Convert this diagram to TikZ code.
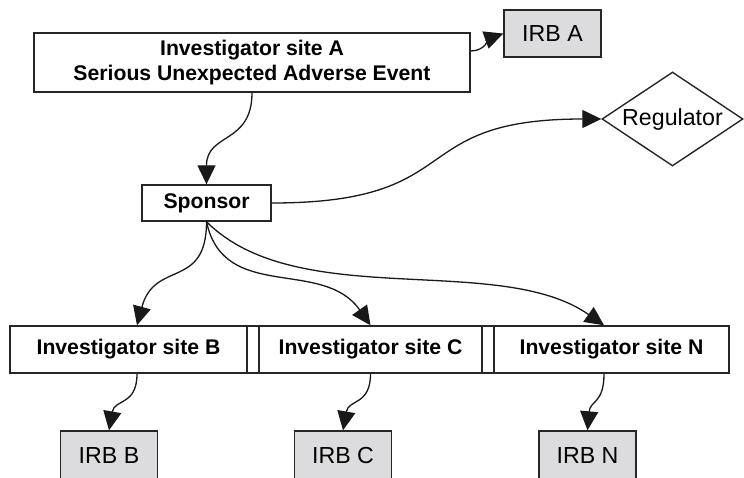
\documentclass[tikz,border=0pt]{standalone}
\usepackage{fontspec}
\setmainfont{Liberation Sans}
\usetikzlibrary{arrows.meta, shapes.geometric}
\definecolor{irbgray}{RGB}{220,220,222}

\begin{document}
\begin{tikzpicture}[x=0.5pt, y=-0.5pt,
      box/.style={rectangle, draw=black!85, line width=0.7pt, inner sep=0pt, font=\fontsize{10.6}{12.5}\selectfont\bfseries},
      site/.style={box, minimum height=23.5pt},
      gap/.style={rectangle, draw=black!85, line width=0.7pt, inner sep=0pt, minimum width=6pt, minimum height=23.5pt},
      irb/.style={rectangle, draw=black!85, line width=0.7pt, fill=irbgray, inner sep=0pt, minimum width=48.5pt, minimum height=23.5pt, font=\fontsize{11.6}{13}\selectfont},
      reg/.style={diamond, draw=black!85, line width=0.7pt, aspect=1.5, inner sep=0pt, minimum width=70.5pt, minimum height=47pt, font=\fontsize{11.6}{13}\selectfont},
      arr/.style={-{Triangle[length=9.5pt, width=9pt]}, line width=0.65pt, black!90},
    ]
      \useasboundingbox (0,0) rectangle (744,477);
      % reporting site + sponsor
      \node[box, minimum width=218pt, minimum height=29.5pt, align=center] (siteA) at (252,62.5) {Investigator site A\\Serious Unexpected Adverse Event};
      \node[irb] (irbA) at (552.5,33.5) {IRB A};
      \node[box, minimum width=64.5pt, minimum height=18pt] (sponsor) at (206.5,203) {Sponsor};
      \node[reg] (reg) at (672.5,119) {Regulator};
      % other sites
      \node[site, minimum width=118.5pt] (siteB) at (128.5,349.5) {Investigator site B};
      \node[gap] (gapBC) at (253,349.5) {};
      \node[site, minimum width=111.5pt] (siteC) at (370.5,349.5) {Investigator site C};
      \node[gap] (gapCN) at (488,349.5) {};
      \node[site, minimum width=117.5pt] (siteN) at (611.5,349.5) {Investigator site N};
      % their IRBs (cut off at the bottom edge)
      \node[irb, minimum height=25pt] (irbB) at (109,456) {IRB B};
      \node[irb, minimum height=25pt] (irbC) at (343,456) {IRB C};
      \node[irb, minimum height=25pt] (irbN) at (587.5,456) {IRB N};
      % reports
      \draw[arr] ([yshift=5.75pt]siteA.east) to[out=0, in=200] (irbA.west);
      \draw[arr] (siteA.south) to[out=-90, in=90, looseness=1.3] (sponsor.north);
      \draw[arr] (sponsor.east) to[out=0, in=180, looseness=1.5] (reg.west);
      \draw[arr] (sponsor.south) to[out=-90, in=75, looseness=1.4] ([xshift=4.25pt]siteB.north);
      \draw[arr] (sponsor.south) to[out=-78, in=125, looseness=1.1] (siteC.north);
      \draw[arr] (sponsor.south) to[out=-45, in=145, looseness=0.8] ([xshift=-3.75pt]siteN.north);
      \draw[arr] ([xshift=4.25pt]siteB.south) to[out=-90, in=80, looseness=1.3] (irbB.north);
      \draw[arr] (siteC.south) to[out=-90, in=80, looseness=1.3] (irbC.north);
      \draw[arr] ([xshift=-3.75pt]siteN.south) to[out=-90, in=85, looseness=1.3] (irbN.north);
    \end{tikzpicture}
\end{document}
